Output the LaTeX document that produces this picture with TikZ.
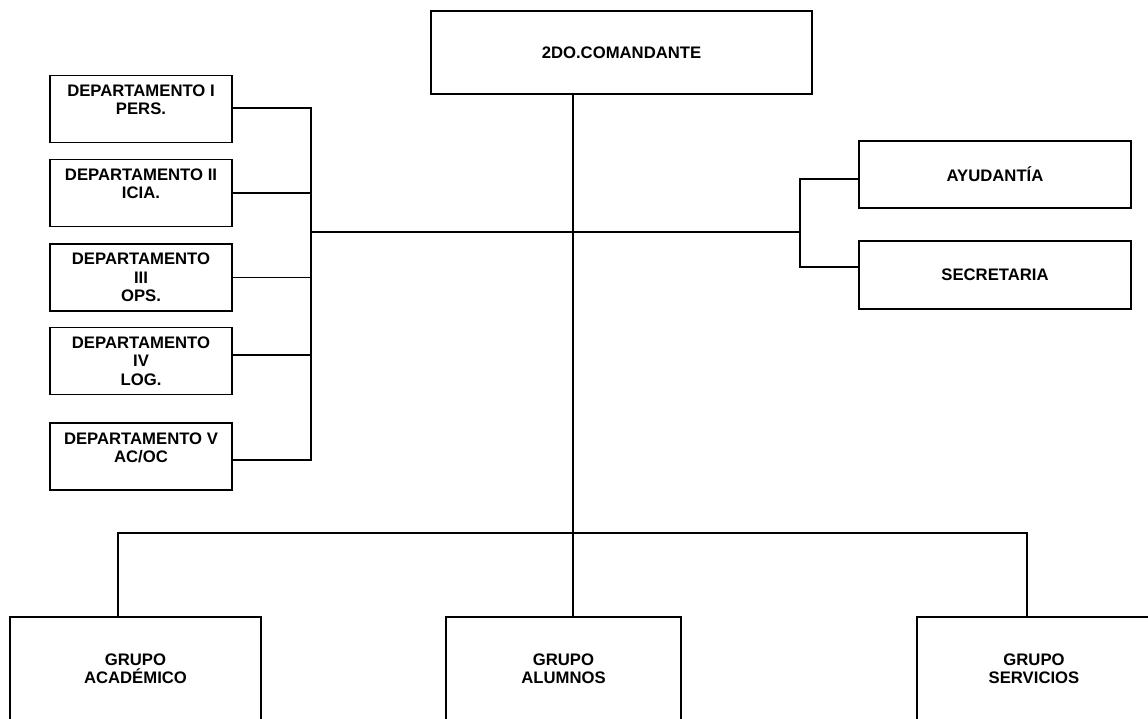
\documentclass[tikz,border=0pt]{standalone}
\usepackage{fontspec}
\setmainfont{Liberation Sans}
\tikzset{
box/.style={
	  draw, line width=0.9pt, align=center, inner sep=2pt,
	    font=\fontsize{9.5}{10.4}\selectfont\bfseries},
dept/.style={box, minimum width=3.64cm, minimum height=1.34cm},
side/.style={box, minimum width=5.44cm, minimum height=1.35cm},
grupo/.style={box, minimum width=#1, minimum height=2.06cm},
link/.style={line width=0.9pt}
}

\begin{document}
\begin{tikzpicture}[x=0.02cm, y=-0.02cm]
	\useasboundingbox (0,0) rectangle (1148,718);
	\node[box, minimum width=7.62cm, minimum height=1.66cm] (cmd) at (621.5,52.5) {2DO.COMANDANTE};
	\node[dept] (d1) at (141,109) {DEPARTAMENTO I\\PERS.\\~};
	\node[dept] (d2) at (141,193) {DEPARTAMENTO II\\ICIA.\\~};
	\node[dept] (d3) at (141,277.5) {DEPARTAMENTO\\III\\OPS.};
	\node[dept] (d4) at (141,361) {DEPARTAMENTO\\IV\\LOG.};
	\node[dept] (d5) at (141,456.5) {DEPARTAMENTO V\\AC/OC\\~};
	\node[side] (ayu) at (995,174.5) {AYUDANTÍA};
	\node[side] (sec) at (995,275) {SECRETARIA};
	\node[grupo=5.02cm] (aca) at (135.5,668.5) {GRUPO\\ACADÉMICO};
	\node[grupo=4.7cm] (alu) at (563.5,668.5) {GRUPO\\ALUMNOS};
	\node[grupo=4.68cm] (ser) at (1034,668.5) {GRUPO\\SERVICIOS};
	\coordinate (lbus) at (311,232);
	\coordinate (rbus) at (800,232);
	\coordinate (la) at (311,108);
	\coordinate (lb) at (311,460);
	\coordinate (ld) at (311,355);
	\coordinate (ra) at (800,179);
	\coordinate (rb) at (800,267);
	\coordinate (stem) at (573,533);
	\coordinate (bl) at (118,533);
	\coordinate (br) at (1027,533);
	\draw[link] (d1.east |- la) -- (la) -- (lb) -- (d5.east |- lb);
	\foreach \d in {d2,d3}
		\draw[link] (\d.east) -- (\d.east -| lbus);
	\draw[link] (d4.east |- ld) -- (ld);
	\draw[link] (lbus) -- (rbus);
	\draw[link] (ayu.west |- ra) -- (ra) -- (rb) -- (sec.west |- rb);
	\draw[link] (cmd.south -| stem) -- (stem |- alu.north);
	\draw[link] (bl |- aca.north) -- (bl) -- (br) -- (br |- ser.north);
\end{tikzpicture}
\end{document}
